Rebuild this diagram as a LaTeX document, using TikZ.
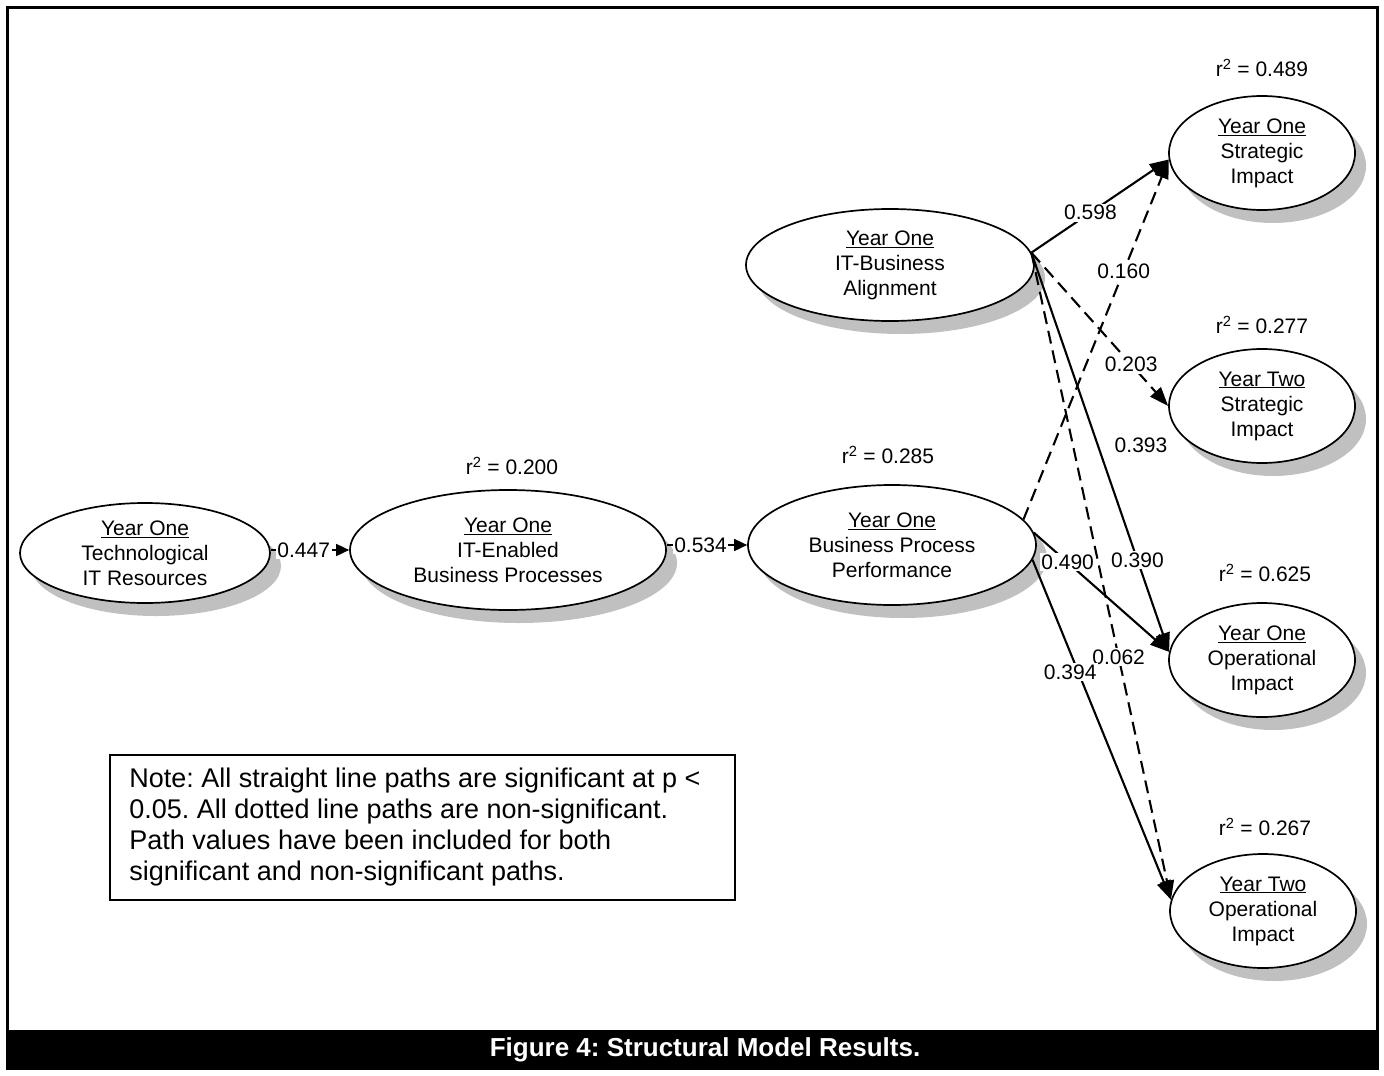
\documentclass[tikz,border=0pt]{standalone}
\usepackage{fontspec}
\setmainfont{Liberation Sans}
\usepackage{graphicx}
\usetikzlibrary{arrows.meta,shapes.geometric,shadows}
\definecolor{shgray}{HTML}{C0C0C0}
\frenchspacing
\begin{document}
\begin{tikzpicture}[x=1pt,y=-1pt,
  every node/.style={font=\fontsize{21}{25}\selectfont},
  lat/.style={ellipse, draw, line width=1.7pt, fill=white, inner sep=0pt, align=center,
     drop shadow={shadow xshift=11pt, shadow yshift=-13pt, fill=shgray, opacity=1}},
  outc/.style={lat, minimum width=186pt, minimum height=114pt},
  sig/.style={line width=2.1pt, -{Triangle[length=19pt,width=14pt]}},
  nsig/.style={sig, dash pattern=on 13pt off 7pt},
  small/.style={line width=1.7pt, -{Triangle[length=13pt,width=12pt]}},
  plbl/.style={fill=white, inner sep=1.5pt},
  rsq/.style={inner sep=0pt}
]
\useasboundingbox (0,0) rectangle (1384,1076);
% frame and caption bar
\draw[line width=3pt] (7,7) rectangle (1377,1068);
\fill[black] (7,1030) rectangle (1377,1068);
\node[text=white, font=\bfseries\fontsize{26}{30}\selectfont] (cap) at (705,1050)
  {Figure 4: Structural Model Results.};

% latent variables
\node[lat, minimum width=250pt, minimum height=100pt] (tech) at (145,553)
  {\underline{Year One}\\Technological\\IT Resources};
\node[lat, minimum width=316pt, minimum height=120pt] (itep) at (508,550)
  {\underline{Year One}\\IT-Enabled\\Business Processes};
\node[lat, minimum width=288pt, minimum height=120pt] (bpp) at (892,545)
  {\underline{Year One}\\Business Process\\Performance};
\node[lat, minimum width=288pt, minimum height=112pt] (itba) at (890,265)
  {\underline{Year One}\\IT-Business\\Alignment};
\node[outc] (yos) at (1262,153) {\underline{Year One}\\Strategic\\Impact};
\node[outc] (yts) at (1262,406) {\underline{Year Two}\\Strategic\\Impact};
\node[outc] (yoo) at (1262,660) {\underline{Year One}\\Operational\\Impact};
\node[outc] (yto) at (1263,911) {\underline{Year Two}\\Operational\\Impact};

% r-squared labels
\node[rsq] (r1) at (1262,68) {r\textsuperscript{2} = 0.489};
\node[rsq] (r2) at (1262,325) {r\textsuperscript{2} = 0.277};
\node[rsq] (r3) at (1265,573) {r\textsuperscript{2} = 0.625};
\node[rsq] (r4) at (1265,827) {r\textsuperscript{2} = 0.267};
\node[rsq] (r5) at (512,466) {r\textsuperscript{2} = 0.200};
\node[rsq] (r6) at (888,455) {r\textsuperscript{2} = 0.285};

% paths
\draw[small] (tech.east |- itep.west) -- node[plbl, pos=0.42]{0.447} (itep.west);
\draw[small] (itep.east |- bpp.west) -- node[plbl, pos=0.42]{0.534} (bpp.west);

\draw[sig]  (itba.5) -- node[plbl, pos=0.43]{0.598} (yos.184);
\draw[nsig] (bpp.11) -- node[plbl, pos=0.69]{0.160} (yos.184);
\draw[nsig] (itba.5) -- node[plbl, pos=0.73]{0.203} (yts.west);
\draw[nsig] (itba.5) -- node[plbl, pos=0.625]{0.062} (yto.173);
\draw[sig]  (itba.5) -- node[plbl, pos=0.77]{0.390} (yoo.175);
\draw[sig]  (bpp.5) -- node[plbl, pos=0.25]{0.490} (yoo.175);
\draw[sig]  (bpp.-6) -- node[plbl, pos=0.33, xshift=-8pt]{0.394} (yto.173);
\node[rsq] (l393) at (1141,445) {0.393};

% note
\node[draw, line width=1.5pt, minimum width=625pt, minimum height=145pt, inner sep=0pt] (note) at (422.5,827.5) {};
\node[anchor=west, align=left, inner sep=0pt, font=\fontsize{27}{31}\selectfont] (notetxt) at ([xshift=20pt]note.west)
  {Note: All straight line paths are significant at p <\\
   0.05. All dotted line paths are non-significant.\\
   Path values have been included for both\\
   significant and non-significant paths.};
\end{tikzpicture}
\end{document}
